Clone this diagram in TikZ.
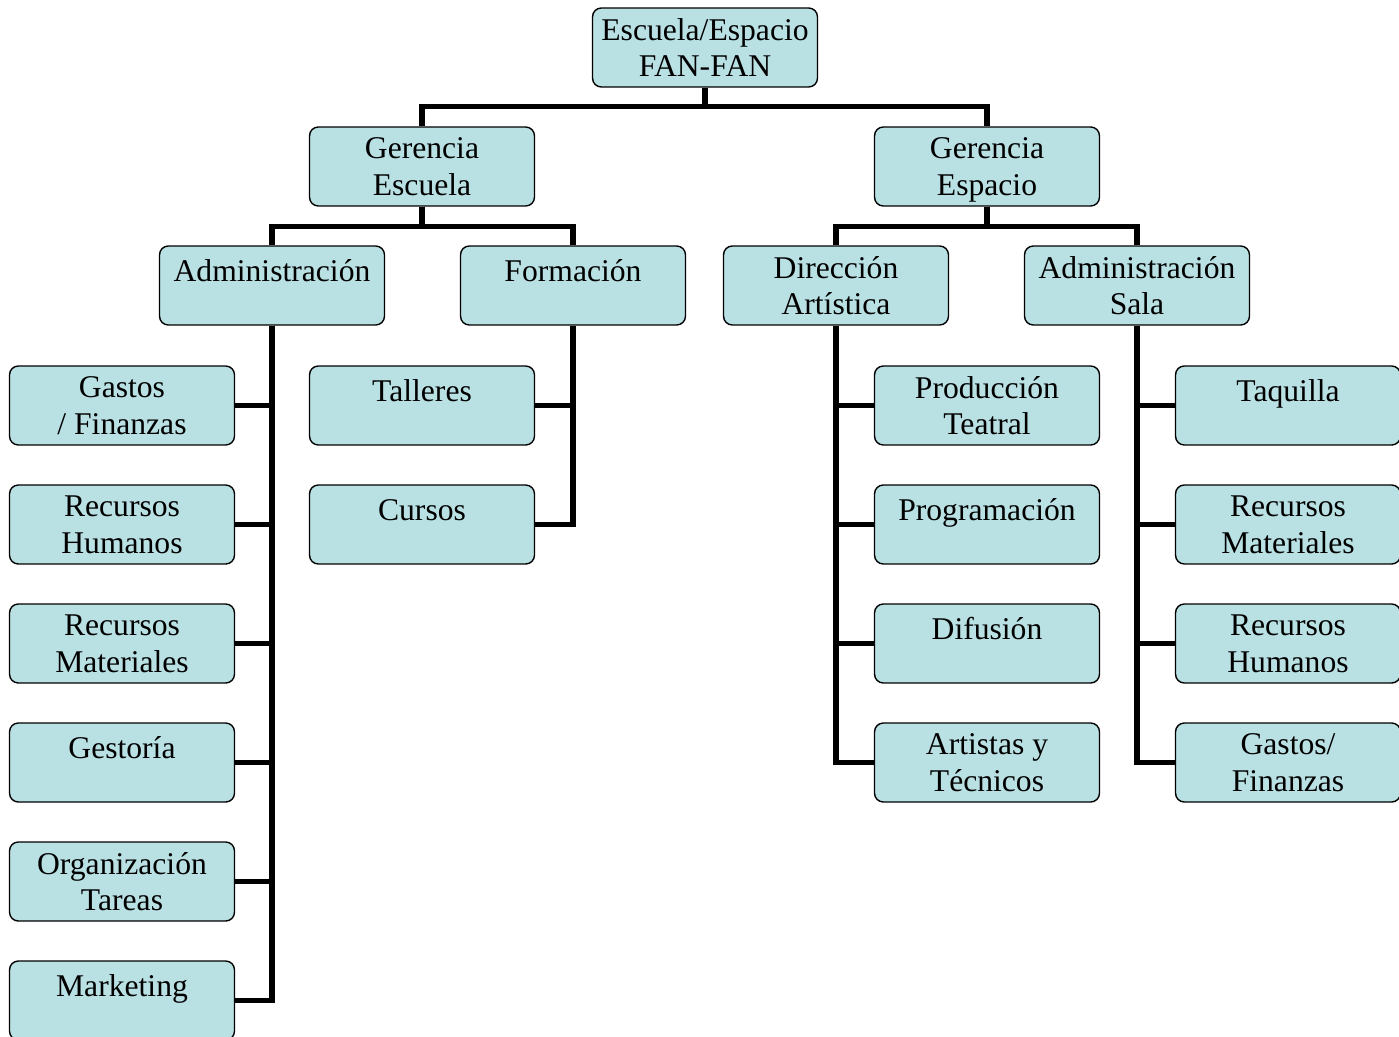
\documentclass[tikz,border=0pt]{standalone}
\usepackage{fontspec}
\setmainfont{Liberation Serif}
\usepackage{xcolor}
\usepackage{tikz}
\usetikzlibrary{positioning}

\definecolor{boxfill}{RGB}{185,224,227}

\begin{document}
\begin{tikzpicture}[
    x=0.02cm, y=-0.02cm,
    box/.style={rectangle, draw, line width=0.8pt, rounded corners=5pt, fill=boxfill,
        minimum width=4.5cm, minimum height=1.58cm, align=center,
        font=\fontsize{18}{21}\selectfont, inner sep=2pt, text depth=0pt},
    oneline/.style={box, text depth=17pt},
    conn/.style={line width=3.1pt},
]
\useasboundingbox (0,0) rectangle (1399,1037);

% Top
\node[box] (top) at (705,47.5) {Escuela/Espacio\\FAN-FAN};

% Second level
\node[box] (gesc) at (422,166.5) {Gerencia\\Escuela};
\node[box] (gesp) at (987,166.5) {Gerencia\\Espacio};

% Third level
\node[oneline] (admin) at (272,285.5) {Administración};
\node[oneline] (form) at (573,285.5) {Formación};
\node[box] (dirart) at (836,285.5) {Dirección\\Artística};
\node[box] (adsala) at (1137,285.5) {Administración\\Sala};

% Administracion children
\node[box] (gastos) at (122,405.5) {Gastos\\/ Finanzas};
\node[box] (rrhh) at (122,524.5) {Recursos\\Humanos};
\node[box] (rrmm) at (122,643.5) {Recursos\\Materiales};
\node[oneline] (gestoria) at (122,762.5) {Gestoría};
\node[box] (orgtar) at (122,881.5) {Organización\\Tareas};
\node[oneline] (marketing) at (122,1000.5) {Marketing};

% Formacion children
\node[oneline] (talleres) at (422,405.5) {Talleres};
\node[oneline] (cursos) at (422,524.5) {Cursos};

% Direccion Artistica children
\node[box] (prodteat) at (987,405.5) {Producción\\Teatral};
\node[oneline] (program) at (987,524.5) {Programación};
\node[oneline] (difusion) at (987,643.5) {Difusión};
\node[box] (arttec) at (987,762.5) {Artistas y\\Técnicos};

% Administracion Sala children
\node[oneline] (taquilla) at (1288,405.5) {Taquilla};
\node[box] (salarm) at (1288,524.5) {Recursos\\Materiales};
\node[box] (salarh) at (1288,643.5) {Recursos\\Humanos};
\node[box] (salagf) at (1288,762.5) {Gastos/\\Finanzas};

% Connectors top-down
\draw[conn] (top.south) -- ++(0,19) -| (gesc.north);
\draw[conn] (top.south) -- ++(0,19) -| (gesp.north);
\draw[conn] (gesc.south) -- ++(0,20) -| (admin.north);
\draw[conn] (gesc.south) -- ++(0,20) -| (form.north);
\draw[conn] (gesp.south) -- ++(0,20) -| (dirart.north);
\draw[conn] (gesp.south) -- ++(0,20) -| (adsala.north);

% Side branches
\foreach \c in {gastos,rrhh,rrmm,gestoria,orgtar,marketing}
    \draw[conn] (admin.south) |- (\c.east);
\foreach \c in {talleres,cursos}
    \draw[conn] (form.south) |- (\c.east);
\foreach \c in {prodteat,program,difusion,arttec}
    \draw[conn] (dirart.south) |- (\c.west);
\foreach \c in {taquilla,salarm,salarh,salagf}
    \draw[conn] (adsala.south) |- (\c.west);

\end{tikzpicture}
\end{document}
